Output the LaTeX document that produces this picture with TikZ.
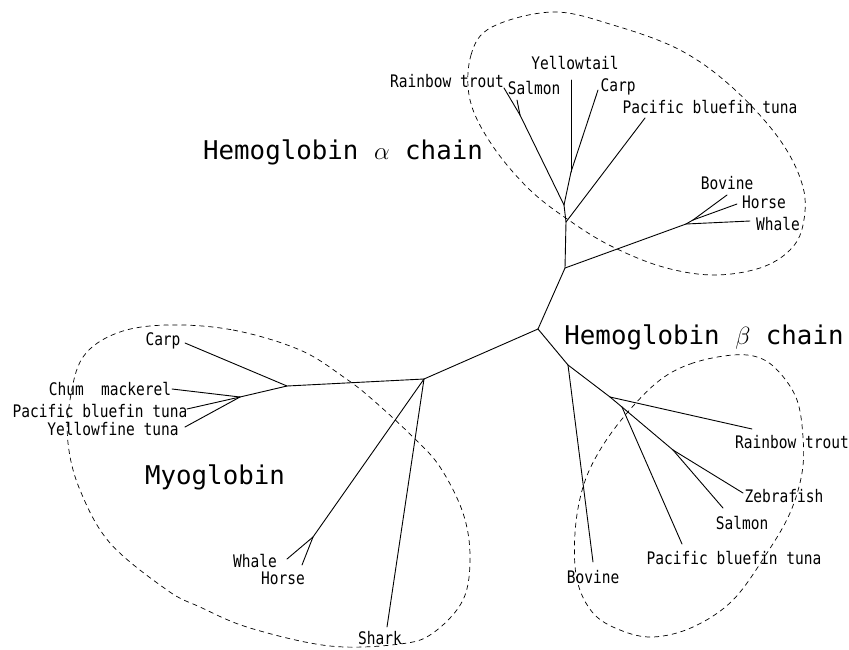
\documentclass[tikz,border=0pt]{standalone}
\usepackage{fontspec}
\newfontfamily\treefont[FakeStretch=0.84]{DejaVu Sans Mono}
\newfontfamily\groupfont{DejaVu Sans Mono}
\usetikzlibrary{calc}

\begin{document}
\begin{tikzpicture}[x=1pt,y=-1pt,
  branch/.style={line width=0.9pt, line cap=round},
  hull/.style={line width=0.7pt, dash pattern=on 5pt off 4pt},
  leaf/.style={font=\treefont\fontsize{17.3}{19}\selectfont, inner sep=0pt, text height=12.6pt, text depth=0pt},
  group/.style={font=\groupfont\fontsize{25.8}{28}\selectfont, inner sep=0pt, text height=18.9pt, text depth=0pt}]
\useasboundingbox (0,0) rectangle (849,649);
% junctions
\coordinate (root) at (538,329);
\coordinate (aJ) at (565,268);
\coordinate (a1) at (566,222);
\coordinate (a2) at (564,205);
\coordinate (a3) at (520,115);
\coordinate (a4) at (571,172);
\coordinate (a5) at (686,224);
\coordinate (a6) at (693,220);
\coordinate (m0) at (424,379);
\coordinate (m1) at (287,386);
\coordinate (m2) at (240,397);
\coordinate (m3) at (313,537);
\coordinate (b1) at (568,365);
\coordinate (b2) at (610,397);
\coordinate (b3) at (622,407);
\coordinate (b4) at (673,450);
% tips
\coordinate (aRT) at (504,88);
\coordinate (aSa) at (517,100);
\coordinate (aYt) at (571,80);
\coordinate (aCa) at (598,90);
\coordinate (aPb) at (645,118);
\coordinate (aBo) at (727,195);
\coordinate (aHo) at (737,204);
\coordinate (aWh) at (750,221);
\coordinate (mCa) at (185,343);
\coordinate (mCm) at (172,389);
\coordinate (mPb) at (187,409);
\coordinate (mYf) at (185,427);
\coordinate (mWh) at (287,559);
\coordinate (mHo) at (302,565);
\coordinate (mSh) at (387,627);
\coordinate (bBo) at (593,562);
\coordinate (bRT) at (752,429);
\coordinate (bPb) at (682,544);
\coordinate (bSa) at (723,508);
\coordinate (bZf) at (743,493);
% branches
\foreach \from/\to in {root/aJ, aJ/a1, a1/a2, a2/a3, a3/aRT, a3/aSa, a2/a4, a4/aYt, a4/aCa,
    a1/aPb, aJ/a5, a5/a6, a6/aBo, a6/aHo, a5/aWh,
    root/m0, m0/m1, m1/mCa, m1/m2, m2/mCm, m2/mPb, m2/mYf, m0/m3, m3/mWh, m3/mHo, m0/mSh,
    root/b1, b1/bBo, b1/b2, b2/bRT, b2/b3, b3/bPb, b3/b4, b4/bSa, b4/bZf}
  \draw[branch] (\from) -- (\to);
% hemoglobin alpha
\node[leaf] (aRTl) at (447,81) {Rainbow trout};
\node[leaf] (aSal) at (534,88) {Salmon};
\node[leaf] (aYtl) at (575,63) {Yellowtail};
\node[leaf] (aCal) at (618,85) {Carp};
\node[leaf] (aPbl) at (710,107) {Pacific bluefin tuna};
\node[leaf] (aBol) at (727,183) {Bovine};
\node[leaf] (aHol) at (764,202) {Horse};
\node[leaf] (aWhl) at (778,224) {Whale};
% myoglobin
\node[leaf] (mCal) at (163,339) {Carp};
\node[leaf] (mCml) at (110,389) {Chum~~mackerel};
\node[leaf] (mPbl) at (100,411) {Pacific bluefin tuna};
\node[leaf] (mYfl) at (113,429) {Yellowfine tuna};
\node[leaf] (mWhl) at (255,561) {Whale};
\node[leaf] (mHol) at (283,578) {Horse};
\node[leaf] (mShl) at (380,638) {Shark};
% hemoglobin beta
\node[leaf] (bRTl) at (792,442) {Rainbow trout};
\node[leaf] (bZfl) at (784,496) {Zebrafish};
\node[leaf] (bSal) at (742,523) {Salmon};
\node[leaf] (bPbl) at (734,558) {Pacific bluefin tuna};
\node[leaf] (bBol) at (593,577) {Bovine};
% groups
\node[group] (alpha) at (343,150) {Hemoglobin $\alpha$ chain};
\node[group] (beta) at (704,335) {Hemoglobin $\beta$ chain};
\node[group] (myo) at (215,475) {Myoglobin};
\draw[hull] plot[smooth cycle, tension=0.6] coordinates {(470,100) (471,55) (492,27) (553,12) (613,25) (680,50) (733,88)
  (780,140) (803,187) (803,225) (790,250) (760,268) (713,275) (663,267) (613,247) (573,223) (530,190) (492,145)};
\draw[hull] plot[smooth cycle, tension=0.6] coordinates {(167,325) (233,330) (300,350) (345,378) (373,400) (413,437)
  (440,467) (463,513) (470,557) (463,600) (433,633) (400,644) (330,646) (250,628) (200,607) (167,590) (110,543)
  (80,490) (68,443) (70,400) (83,357) (117,333)};
\draw[hull] plot[smooth cycle, tension=0.6] coordinates {(733,355) (693,363) (660,380) (627,413) (600,450) (583,487)
  (575,533) (577,580) (593,613) (620,630) (653,637) (693,627) (733,600) (767,553) (790,513) (802,473) (803,437)
  (797,400) (780,373) (760,358)};
\end{tikzpicture}
\end{document}
